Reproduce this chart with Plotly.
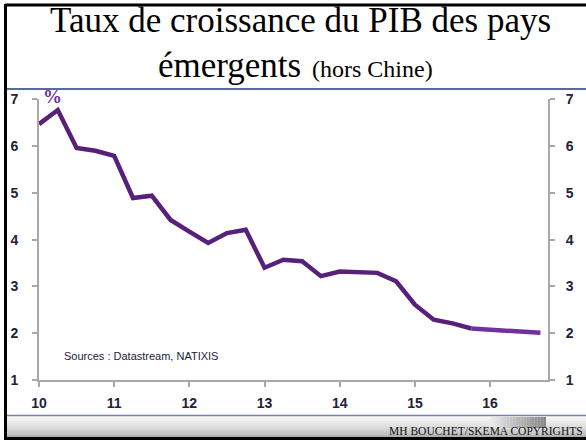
import plotly.graph_objects as go

# ---- data (years 2010 = 10) ----
quarters = [10.0, 10.25, 10.5, 10.75, 11.0, 11.25, 11.5, 11.75, 12.0, 12.25, 12.5, 12.75,
            13.0, 13.25, 13.5, 13.75, 14.0, 14.25, 14.5, 14.75, 15.0, 15.25, 15.5, 15.75]
growth = [6.47, 6.77, 5.96, 5.90, 5.79, 4.89, 4.94, 4.42, 4.17, 3.93, 4.14, 4.21,
          3.40, 3.57, 3.54, 3.22, 3.32, 3.31, 3.29, 3.11, 2.61, 2.29, 2.21, 2.10]
forecast_x = [15.75, 16.67]
forecast_y = [2.10, 2.01]
x_ticks = [10, 11, 12, 13, 14, 15, 16]
x_tick_labels = ["10", "11", "12", "13", "14", "15", "16"]
y_ticks = [1, 2, 3, 4, 5, 6, 7]

W, H = 586, 441
def px(x):
    return x / W
def py(y):
    return 1 - y / H

fig = go.Figure()
fig.add_trace(go.Scatter(x=quarters, y=growth, mode="lines",
                         line=dict(color="#57207A", width=4.5), showlegend=False))
fig.add_trace(go.Scatter(x=forecast_x, y=forecast_y, mode="lines",
                         line=dict(color="#7030A0", width=4.5), showlegend=False))
# invisible trace to activate right axis
fig.add_trace(go.Scatter(x=forecast_x, y=forecast_y, yaxis="y2", mode="lines",
                         line=dict(width=0), hoverinfo="skip", showlegend=False, opacity=0))

tickfont = dict(family="Liberation Sans, Arial", size=14, color="#22223a", weight="bold")
axis_common = dict(showgrid=False, zeroline=False, showline=True, linecolor="#A8A8A8",
                   linewidth=2, ticks="outside", ticklen=5, tickwidth=1.5,
                   tickcolor="#A8A8A8", tickfont=tickfont, automargin=False)

fig.update_layout(
    template="none",
    width=W, height=H, margin=dict(l=0, r=0, t=0, b=0, autoexpand=False),
    paper_bgcolor="white", plot_bgcolor="white",
    xaxis=dict(domain=[px(39), px(548)], range=[10, 16.77], tickvals=x_ticks,
               ticktext=x_tick_labels, ticklabelstandoff=4, anchor="y", **axis_common),
    yaxis=dict(domain=[py(380), py(99.3)], range=[1, 7], tickvals=y_ticks,
               ticklabelstandoff=11, **axis_common),
    yaxis2=dict(overlaying="y", side="right", anchor="x", range=[1, 7], tickvals=y_ticks,
                ticklabelstandoff=8, **axis_common),
)

shapes = []
# footer gradient band
n = 22
top, bot = 416, 437
for i in range(n):
    y0 = top + (bot - top) * i / n
    y1 = top + (bot - top) * (i + 1) / n
    g = int(250 - 75 * i / (n - 1))
    shapes.append(dict(type="rect", xref="paper", yref="paper", x0=px(5), x1=1,
                       y0=py(y1), y1=py(y0), line=dict(width=0),
                       fillcolor=f"rgb({g},{g},{g})", layer="below"))
# grey blob behind copyright
m = 20
for i in range(m):
    x0 = 490 + 56 * i / m
    x1 = 490 + 56 * (i + 1) / m
    g = int(235 - 100 * i / (m - 1))
    shapes.append(dict(type="rect", xref="paper", yref="paper", x0=px(x0), x1=px(x1),
                       y0=py(428), y1=py(417), line=dict(width=0),
                       fillcolor=f"rgb({g},{g},{g})", layer="below"))
# footer line
shapes.append(dict(type="line", xref="paper", yref="paper", x0=px(5), x1=1,
                   y0=py(415.5), y1=py(415.5), line=dict(color="#6F82AA", width=1.5)))
# title separator
shapes.append(dict(type="line", xref="paper", yref="paper", x0=px(5), x1=1,
                   y0=py(89), y1=py(89), line=dict(color="#1F3A7A", width=1.5)))
# black frame
shapes.append(dict(type="line", xref="paper", yref="paper", x0=px(5), x1=1,
                   y0=py(5), y1=py(5), line=dict(color="black", width=3)))
shapes.append(dict(type="line", xref="paper", yref="paper", x0=px(5.5), x1=px(5.5),
                   y0=py(4), y1=py(440), line=dict(color="black", width=3)))
shapes.append(dict(type="line", xref="paper", yref="paper", x0=px(5), x1=1,
                   y0=py(438.5), y1=py(438.5), line=dict(color="black", width=3)))
fig.update_layout(shapes=shapes)

serif = "Liberation Serif, Times New Roman, serif"
ann = [
    dict(text="Taux de croissance du PIB des pays", x=px(300), y=py(20),
         font=dict(family=serif, size=35, color="black")),
    dict(text="émergents", x=px(303), y=py(65), xanchor="right",
         font=dict(family=serif, size=35, color="black")),
    dict(text="(hors Chine)", x=px(310), y=py(69), xanchor="left",
         font=dict(family=serif, size=24, color="black")),
    dict(text="<b>%</b>", x=px(52), y=py(96),
         font=dict(family=serif, size=19, color="#7030A0")),
    dict(text="Sources : Datastream, NATIXIS", x=px(62), y=py(356), xanchor="left",
         font=dict(family="Liberation Sans, Arial", size=11, color="#1B1B3B")),
    dict(text="MH BOUCHET/SKEMA COPYRIGHTS", x=px(585), y=py(431), xanchor="right",
         font=dict(family=serif, size=11.5, color="#111111")),
]
for a in ann:
    a.setdefault("xanchor", "center")
    a.update(xref="paper", yref="paper", yanchor="middle", showarrow=False)
fig.update_layout(annotations=ann)

fig.write_html("out.html", config={"displayModeBar": False},
               post_script="document.body.style.margin='0';document.body.style.overflow='hidden';")
